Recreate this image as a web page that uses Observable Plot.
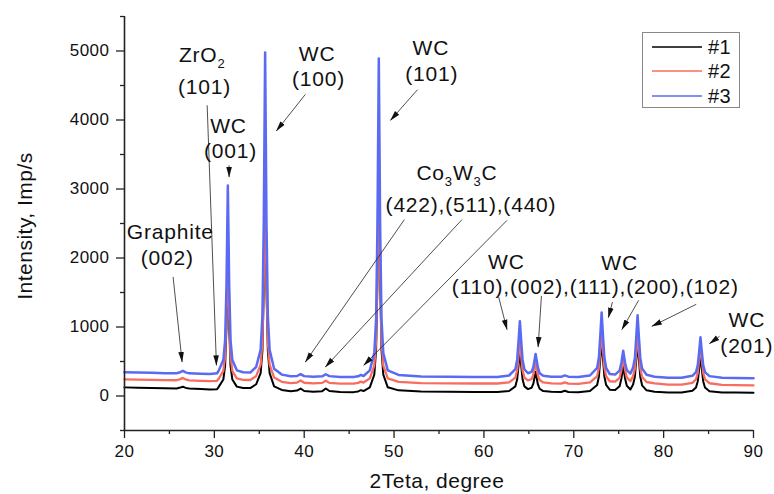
<!DOCTYPE html>
<html><head><meta charset="utf-8">
<script src="https://cdn.jsdelivr.net/npm/d3@7"></script>
<script src="https://cdn.jsdelivr.net/npm/@observablehq/plot@0.6"></script>
<style>
html,body{margin:0;padding:0;background:#fff;}
#chart svg{font-family:"Liberation Sans",Arial,sans-serif;overflow:visible;}
#chart svg text{letter-spacing:0.5px;}
#chart svg g[aria-label="text"] text{letter-spacing:0.8px;}
</style></head><body><div id="chart"></div>
<script>
// 2θ grid (degrees)
const twoTheta = [20,21.5,23,24.5,25.8,26.2,26.5,26.8,27.2,28.5,29.5,30.3,
30.5,31.0,31.2,31.35,31.5,31.65,31.8,32.0,32.5,33.2,34.0,34.65,
35.15,35.35,35.5,35.65,35.8,35.95,36.15,36.65,37.5,38.5,39.2,39.6,40.0,41.0,42.0,42.4,42.8,44.0,45.5,46.0,46.3,46.6,
47.3,47.8,48.0,48.15,48.3,48.45,48.6,48.8,49.3,50.5,53,56,59,61.5,62.8,
63.5,63.7,63.85,64.0,64.15,64.3,64.5,64.9,65.3,65.5,65.75,66.0,66.2,66.6,67.5,68.6,69.0,69.4,70.5,71.8,
72.6,72.8,72.95,73.1,73.25,73.4,73.6,74.0,74.6,75.1,75.3,75.5,75.7,75.9,76.3,76.6,76.8,76.95,77.1,77.25,77.4,77.6,78.1,79,80.5,82,
83.2,83.6,83.8,83.95,84.1,84.25,84.4,84.6,85.1,86.5,88,90];
// #1 (black)
const intensity1 = [125,120,117,112,110,122,135,118,108,100,96,98,
136,239,442,993,2000,993,442,239,136,115,115,170,
332,657,1539,3150,1539,657,332,140,88,68,78,108,72,62,70,108,72,58,56,66,85,72,
126,309,672,1654,3450,1654,672,309,126,82,64,60,57,58,73,
140,241,437,650,437,241,140,100,119,180,350,171,105,72,60,58,75,58,55,73,
160,287,532,800,532,287,160,91,86,142,254,432,258,148,95,167,280,519,780,519,280,155,82,62,50,50,
75,124,214,389,580,389,214,124,70,52,50,48];
// #2 (red)
const intensity2 = [242,238,234,230,228,245,262,240,226,220,216,220,
254,364,581,1171,2250,1171,581,364,254,235,232,288,
455,791,1703,3370,1703,791,455,268,205,187,195,225,192,182,190,222,190,180,180,190,208,195,
255,440,807,1802,3620,1802,807,440,255,205,188,183,181,181,197,
267,372,577,800,577,372,267,225,245,310,490,301,231,196,183,180,198,180,176,196,
286,417,672,950,672,417,286,214,209,264,377,555,381,270,215,288,400,639,900,639,400,276,203,182,165,164,
190,242,339,526,730,526,339,242,185,162,158,154];
// #3 (blue)
const intensity3 = [345,340,336,331,330,345,365,343,328,322,318,330,
372,520,810,1600,3050,1600,810,520,372,345,340,420,
670,1167,2516,4980,2516,1167,670,395,310,285,290,318,288,278,285,315,288,276,276,285,305,290,
372,621,1114,2449,4890,2449,1114,621,372,305,284,278,276,276,297,
388,526,793,1085,793,526,388,330,349,418,610,418,330,292,280,278,298,280,274,297,
406,565,873,1210,873,565,406,319,310,368,482,655,485,374,325,411,552,848,1170,848,552,399,309,280,266,266,
293,347,447,640,850,640,447,347,288,266,262,258];

const seriesNames = ["#1", "#2", "#3"];
const seriesColors = ["#000000", "#f86d5f", "#5a6af2"];
const seriesValues = [intensity1, intensity2, intensity3];

const xTicks = [20, 30, 40, 50, 60, 70, 80, 90];
const xMinorTicks = [25, 35, 45, 55, 65, 75, 85];
const yTicks = [0, 1000, 2000, 3000, 4000, 5000];
const yMinorTicks = [-500, 500, 1500, 2500, 3500, 4500, 5500];
const xDomain = [20, 90];
const yDomain = [-500, 5500];

// annotation labels ({n} = subscript)
const labelText = ["Graphite", "(002)", "ZrO{2}", "(101)", "WC", "(001)", "WC", "(100)", "WC", "(101)",
  "Co{3}W{3}C", "(422),(511),(440)", "WC", "WC", "(110),(002),(111),(200),(102)", "WC", "(201)"];
const labelX = [25.1, 24.75, 28.65, 28.9, 31.57, 31.8, 41.43, 41.6, 54.1, 54.2, 57.0, 58.56, 62.5, 75.1, 72.4, 89.26, 89.26];
const labelY = [2377, 1991, 4938, 4473, 3909, 3551, 4952, 4585, 5035, 4662, 3232, 2764, 1942, 1919, 1571, 1097, 720];

// annotation arrows (tail -> head)
const arrowX1 = [25.41, 29.2, 31.64, 40.13, 52.61, 51.15, 57.56, 62.57, 61.64, 66.4, 74.3, 77.22, 83.63, 86.22];
const arrowY1 = [1725, 4213, 3343, 4372, 4440, 2557, 2557, 2546, 1435, 1449, 1362, 1387, 1329, 865];
const arrowX2 = [26.41, 30.23, 31.64, 36.9, 49.6, 40.13, 42.35, 46.62, 62.57, 66.03, 73.85, 75.35, 78.69, 85.1];
const arrowY2 = [493, 445, 3174, 3841, 3996, 493, 420, 445, 962, 710, 1136, 962, 1010, 759];

const xTitle = "2Teta, degree";
const yTitle = "Intensity, Imp/s";

const labels = labelText.map((t, i) => ({t, x: labelX[i], y: labelY[i]}));
const arrows = arrowX1.map((x1, i) => ({x1, y1: arrowY1[i], x2: arrowX2[i], y2: arrowY2[i]}));

function filledArrow(color, context) {
  const ns = "http://www.w3.org/2000/svg";
  const doc = (context && context.document) || document;
  const m = doc.createElementNS(ns, "marker");
  m.setAttribute("viewBox", "-10 -4 11 8");
  m.setAttribute("markerWidth", "11");
  m.setAttribute("markerHeight", "8");
  m.setAttribute("markerUnits", "userSpaceOnUse");
  m.setAttribute("orient", "auto");
  m.setAttribute("refX", "0");
  m.setAttribute("refY", "0");
  const p = doc.createElementNS(ns, "path");
  p.setAttribute("d", "M-10,-2.8L0.5,0L-10,2.8Z");
  p.setAttribute("fill", "#111");
  p.setAttribute("stroke", "none");
  m.appendChild(p);
  return m;
}

const lineWidths = [2, 2.3, 2.5];
const lineMarks = seriesValues.map((vals, k) =>
  Plot.line(twoTheta.map((t, i) => ({t, v: vals[i]})), {x: "t", y: "v", stroke: seriesColors[k], strokeWidth: lineWidths[k], strokeLinejoin: "round"})
);

const fmt = d3.format("d");

const svg = Plot.plot({
  width: 774,
  height: 494,
  marginLeft: 124,
  marginRight: 21,
  marginTop: 16,
  marginBottom: 64,
  style: {fontFamily: "'Liberation Sans', Arial, sans-serif", background: "#fff", overflow: "visible"},
  x: {domain: xDomain},
  y: {domain: yDomain},
  marks: [
    ...lineMarks,
    Plot.link(arrows, {x1: "x1", y1: "y1", x2: "x2", y2: "y2", stroke: "#222", strokeWidth: 0.8, markerEnd: filledArrow}),
    Plot.text(labels, {x: "x", y: "y", text: "t", fontSize: 21, fill: "#111"}),
    Plot.axisY({ticks: yTicks, tickSize: 8, tickPadding: 7, fontSize: 17, tickFormat: fmt, label: null, stroke: "#222", strokeWidth: 1.3, color: "#111"}),
    Plot.axisY({ticks: yMinorTicks, tickSize: 4, tickFormat: () => "", label: null, stroke: "#222", strokeWidth: 1.3}),
    Plot.axisX({ticks: xTicks, tickSize: 8, tickPadding: 6, fontSize: 17, tickFormat: fmt, label: null, stroke: "#222", strokeWidth: 1.3, color: "#111"}),
    Plot.axisX({ticks: xMinorTicks, tickSize: 4, tickFormat: () => "", label: null, stroke: "#222", strokeWidth: 1.3}),
    Plot.ruleX([xDomain[0]], {y1: yDomain[0], y2: yDomain[1], stroke: "#222", strokeWidth: 1.6}),
    Plot.ruleY([yDomain[0]], {x1: xDomain[0], x2: xDomain[1], stroke: "#222", strokeWidth: 1.6})
  ]
});

// subscripts
d3.select(svg).selectAll("text").each(function () {
  const t = this.textContent;
  if (!t.includes("{")) return;
  const parts = t.split(/(\{\d+\})/);
  this.textContent = "";
  const sel = d3.select(this);
  parts.forEach(p => {
    if (!p) return;
    const ts = sel.append("tspan");
    if (p.startsWith("{")) ts.text(p.slice(1, -1)).attr("font-size", "0.62em").attr("baseline-shift", "-0.45em");
    else ts.text(p);
  });
});

// axis titles
const s = d3.select(svg);
s.append("text").attr("x", 437).attr("y", 488).attr("text-anchor", "middle")
  .attr("font-size", 21).attr("fill", "#111").text(xTitle);
s.append("text").attr("transform", "translate(32,226) rotate(-90)").attr("text-anchor", "middle")
  .attr("font-size", 21).attr("fill", "#111").text(yTitle);

// legend
const lg = s.append("g");
lg.append("rect").attr("x", 642.5).attr("y", 32.5).attr("width", 97).attr("height", 75)
  .attr("fill", "#fff").attr("stroke", "#888").attr("stroke-width", 1);
const legendRows = [47, 71, 96];
seriesNames.forEach((n, k) => {
  lg.append("line").attr("x1", 652).attr("x2", 702).attr("y1", legendRows[k]).attr("y2", legendRows[k])
    .attr("stroke", seriesColors[k]).attr("stroke-width", 1.6);
  lg.append("text").attr("x", 708).attr("y", legendRows[k]).attr("dy", "0.36em").attr("text-anchor", "start")
    .attr("font-size", 20).attr("fill", "#111").text(n);
});

document.getElementById("chart").appendChild(svg);
</script></body></html>
